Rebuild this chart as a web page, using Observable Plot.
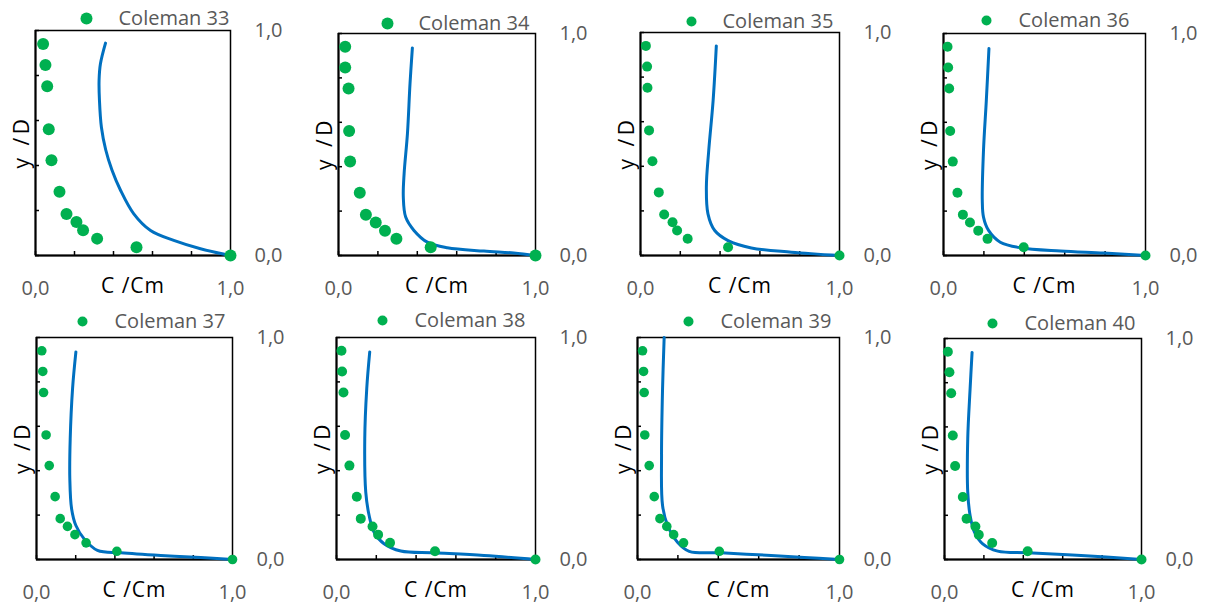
<!DOCTYPE html>
<html><head><meta charset="utf-8">
<script src="https://cdn.jsdelivr.net/npm/d3@7"></script>
<script src="https://cdn.jsdelivr.net/npm/@observablehq/plot@0.6"></script>
<style>
body{margin:0;background:#fff;}
#wrap{position:relative;width:1208px;height:605px;overflow:hidden;background:#fff;}
#wrap svg{position:absolute;}
</style></head><body><div id="wrap"></div>
<script>
// ---- data ----
const seriesNames = ["Coleman 33","Coleman 34","Coleman 35","Coleman 36","Coleman 37","Coleman 38","Coleman 39","Coleman 40"];
const xLabel = "C /Cm";
const yLabel = "y /D";
const labelTicks = [0, 1];
const minorTicks = [0, 0.2, 0.4, 0.6, 0.8, 1];

// measured y/D positions (same for every run)
const yData = [0.94, 0.847, 0.752, 0.561, 0.423, 0.283, 0.184, 0.149, 0.112, 0.075, 0.037, 0];
// measured C/Cm for each run
const c33x = [0.039,0.051,0.060,0.068,0.082,0.123,0.159,0.210,0.244,0.316,0.518,1.0];
const c34x = [0.034,0.034,0.051,0.054,0.059,0.108,0.139,0.189,0.236,0.294,0.468,1.0];
const c35x = [0.027,0.033,0.035,0.043,0.060,0.092,0.119,0.161,0.184,0.237,0.440,1.0];
const c36x = [0.020,0.023,0.028,0.033,0.046,0.069,0.096,0.131,0.172,0.218,0.397,1.0];
const c37x = [0.027,0.032,0.036,0.049,0.065,0.095,0.121,0.158,0.196,0.253,0.410,1.0];
const c38x = [0.025,0.028,0.035,0.043,0.065,0.102,0.122,0.181,0.209,0.269,0.495,1.0];
const c39x = [0.025,0.030,0.033,0.036,0.058,0.083,0.111,0.145,0.179,0.228,0.405,1.0];
const c40x = [0.017,0.025,0.034,0.042,0.054,0.093,0.112,0.157,0.174,0.242,0.422,1.0];

// model curves (C/Cm, y/D), bottom to top
const m33c = [1.0,0.846,0.709,0.590,0.504,0.436,0.392,0.360,0.338,0.328,0.326,0.333,0.359];
const m33y = [0,0.030,0.067,0.111,0.185,0.290,0.380,0.470,0.570,0.689,0.778,0.852,0.944];
const m34c = [1.0,0.890,0.738,0.552,0.451,0.383,0.341,0.329,0.333,0.350,0.363,0.375];
const m34y = [0,0.011,0.020,0.035,0.060,0.113,0.173,0.263,0.368,0.549,0.774,0.935];
const m35c = [1.0,0.758,0.557,0.440,0.373,0.339,0.331,0.343,0.365,0.381];
const m35y = [0,0.015,0.034,0.067,0.112,0.187,0.307,0.472,0.696,0.940];
const m36c = [1.0,0.793,0.579,0.380,0.281,0.223,0.198,0.192,0.198,0.212,0.225];
const m36y = [0,0.011,0.020,0.035,0.060,0.113,0.173,0.248,0.474,0.699,0.932];
const m37c = [1.0,0.838,0.634,0.430,0.311,0.243,0.201,0.179,0.170,0.172,0.184,0.201];
const m37y = [0,0.009,0.018,0.030,0.041,0.093,0.153,0.229,0.364,0.544,0.770,0.935];
const m38c = [1.0,0.741,0.490,0.323,0.239,0.189,0.164,0.147,0.142,0.152,0.167];
const m38y = [0,0.018,0.030,0.038,0.071,0.123,0.198,0.304,0.544,0.770,0.935];
const m39c = [1.0,0.826,0.661,0.413,0.256,0.198,0.149,0.124,0.119,0.124,0.132];
const m39y = [0,0.009,0.018,0.030,0.037,0.078,0.153,0.243,0.468,0.768,1.0];
const m40c = [1.0,0.693,0.422,0.270,0.194,0.152,0.130,0.118,0.118,0.130,0.140];
const m40y = [0,0.018,0.030,0.038,0.071,0.124,0.199,0.305,0.547,0.773,0.937];

const pointsX = [c33x,c34x,c35x,c36x,c37x,c38x,c39x,c40x];
const modelC = [m33c,m34c,m35c,m36c,m37c,m38c,m39c,m40c];
const modelY = [m33y,m34y,m35y,m36y,m37y,m38y,m39y,m40y];

// ---- layout (pixels within each 302x302 cell) ----
const layout = [
  {col:0,row:0,left:35,right:230,top:30,bottom:255,ldx:86,ly:18,ltx:118,r:6,lr:6},
  {col:1,row:0,left:36,right:233,top:33,bottom:255,ldx:85,ly:23,ltx:116,r:6,lr:6},
  {col:2,row:0,left:36,right:235,top:32,bottom:255,ldx:87,ly:21,ltx:118,r:5,lr:5},
  {col:3,row:0,left:37,right:239,top:33,bottom:255,ldx:80,ly:20,ltx:112,r:5,lr:5},
  {col:0,row:1,left:36,right:232,top:33,bottom:255,ldx:82,ly:17,ltx:114,r:4.8,lr:5},
  {col:1,row:1,left:34,right:233,top:33,bottom:255,ldx:80,ly:16,ltx:112,r:5,lr:5},
  {col:2,row:1,left:33,right:235,top:33,bottom:255,ldx:84,ly:17,ltx:116,r:4.8,lr:5},
  {col:3,row:1,left:38,right:235,top:34,bottom:255,ldx:86,ly:19,ltx:118,r:5,lr:5}
];
const W = 302, H = 302;
const FONT = "'Open Sans', sans-serif";
const GRAY = "#595959", GREEN = "#00B050", BLUE = "#0070C0";
const fmt = d => d.toFixed(1).replace(".", ",");

const wrap = document.getElementById("wrap");
seriesNames.forEach((name, i) => {
  const L = layout[i];
  const fw = L.right - L.left, fh = L.bottom - L.top;
  const pts = yData.map((y, j) => ({c: pointsX[i][j], y}));
  const crv = modelY[i].map((y, j) => ({c: modelC[i][j], y}));
  const svg = Plot.plot({
    width: W, height: H,
    marginLeft: L.left, marginRight: W - L.right, marginTop: L.top, marginBottom: H - L.bottom,
    x: {domain: [0, 1], label: null},
    y: {domain: [0, 1], label: null},
    style: {fontFamily: FONT, background: "transparent", overflow: "visible"},
    marks: [
      Plot.frame({stroke: "#000", strokeWidth: 1.5}),
      Plot.ruleX([0], {stroke: "#000", strokeWidth: 2}),
      Plot.ruleY([0], {stroke: "#000", strokeWidth: 2}),
      Plot.tickX(minorTicks, {x: d => d, insetTop: fh - 4, stroke: "#000", strokeWidth: 1.5}),
      Plot.tickY(minorTicks, {y: d => d, insetRight: fw - 4, stroke: "#000", strokeWidth: 1.5}),
      Plot.axisX({anchor: "bottom", ticks: labelTicks, tickSize: 0, tickPadding: 25, tickFormat: fmt, color: GRAY, fontSize: 20, label: null}),
      Plot.axisY({anchor: "right", ticks: labelTicks, tickSize: 0, tickPadding: 24, tickFormat: fmt, color: GRAY, fontSize: 20, label: null}),
      Plot.line(crv, {x: "c", y: "y", stroke: BLUE, strokeWidth: 3, curve: "catmull-rom"}),
      Plot.dot(pts, {x: "c", y: "y", r: L.r, fill: GREEN}),
      Plot.dot([name], {frameAnchor: "top-left", dx: L.ldx - L.left, dy: L.ly - L.top, r: L.lr, fill: GREEN}),
      Plot.text([name], {frameAnchor: "top-left", dx: L.ltx - L.left, dy: L.ly - L.top, text: d => d, textAnchor: "start", lineAnchor: "middle", fontSize: 20, fill: GRAY, fontFamily: FONT}),
      Plot.text([xLabel], {frameAnchor: "bottom", dy: 31, text: d => d, textAnchor: "middle", lineAnchor: "middle", fontSize: 21, fill: "#000", fontFamily: FONT}),
      Plot.text([yLabel], {frameAnchor: "left", dx: -13, dy: -1, rotate: -90, text: d => d, textAnchor: "middle", lineAnchor: "middle", fontSize: 21, fill: "#000", fontFamily: FONT})
    ]
  });
  // widen letter spacing of the axis titles to match the reference
  svg.querySelectorAll("text").forEach(t => {
    if (t.textContent === yLabel) t.setAttribute("letter-spacing", "3.5");
    if (t.textContent === xLabel) t.setAttribute("letter-spacing", "1");
  });
  svg.style.left = (L.col * W) + "px";
  svg.style.top = (L.row * 304) + "px";
  wrap.appendChild(svg);
});
</script>
</body></html>
